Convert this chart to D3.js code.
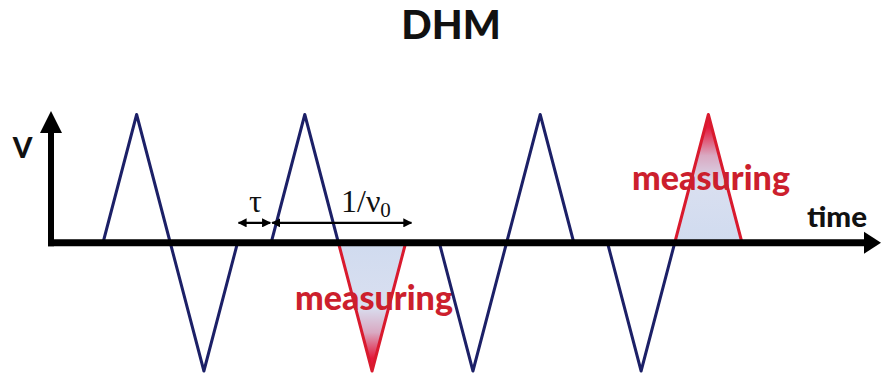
<!DOCTYPE html>
<html>
<head>
<meta charset="utf-8">
<script src="https://cdn.jsdelivr.net/npm/d3@7"></script>
<style>
  html, body { margin: 0; padding: 0; background: #fff; }
  svg { display: block; }
</style>
</head>
<body>
<script>
// ---- data (time in half-pulse units, voltage normalised to pulse amplitude) ----
const pulseStart     = [0, 2, 5, 7, 10, 12, 15, 17];
const pulseSign      = [1, -1, 1, -1, -1, 1, -1, 1];
const pulseMeasuring = [false, false, false, true, false, false, false, true];
const pulseWidth = 2;
const pulseAmplitude = 1;
const tauSpan = [4, 5];
const periodSpan = [5, 9.2];
const measuringLabelPulses = [3, 7];
const titleText = "DHM";
const yLabel = "V";
const xLabel = "time";

// ---- layout ----
const W = 881, H = 376;
const svg = d3.select("body").append("svg").attr("width", W).attr("height", H);

const x = d3.scaleLinear().domain([0, 19]).range([103, 742]);
const y = d3.scaleLinear().domain([-1, 1]).range([371, 114.5]);

const navy = "#1c2067", red = "#d91a2e", textRed = "#cc1f2d";

const defs = svg.append("defs");
const gDown = defs.append("linearGradient").attr("id", "gradDown")
  .attr("x1", 0).attr("y1", 0).attr("x2", 0).attr("y2", 1);
[[0, "#d0dbef"], [0.5, "#d9dff0"], [0.7, "#d9a9c2"], [0.9, "#e4193b"], [1, "#e4123a"]]
  .forEach(([o, c]) => gDown.append("stop").attr("offset", o).attr("stop-color", c));
const gUp = defs.append("linearGradient").attr("id", "gradUp")
  .attr("x1", 0).attr("y1", 0).attr("x2", 0).attr("y2", 1);
[[0, "#e4123a"], [0.1, "#e4193b"], [0.32, "#d9a9c2"], [0.55, "#d9dff0"], [1, "#d0dbef"]]
  .forEach(([o, c]) => gUp.append("stop").attr("offset", o).attr("stop-color", c));

defs.append("marker").attr("id", "ah")
  .attr("viewBox", "0 0 10 10").attr("refX", 9).attr("refY", 5)
  .attr("markerWidth", 9).attr("markerHeight", 9)
  .attr("markerUnits", "userSpaceOnUse")
  .attr("orient", "auto-start-reverse")
  .append("path").attr("d", "M0,0 L10,5 L0,10 z").attr("fill", "#000");

const pulses = pulseStart.map((s, i) => ({
  s, sign: pulseSign[i], meas: pulseMeasuring[i]
}));
const triLine = d3.line().x(d => x(d[0])).y(d => y(d[1]));
const triPts = p => [[p.s, 0], [p.s + pulseWidth / 2, p.sign * pulseAmplitude], [p.s + pulseWidth, 0], [p.s, 0]];

// red measuring triangles (filled)
svg.append("g").selectAll("path").data(pulses.filter(p => p.meas)).join("path")
  .attr("d", p => triLine(triPts(p)) + "Z")
  .attr("fill", p => p.sign < 0 ? "url(#gradDown)" : "url(#gradUp)")
  .attr("stroke", red).attr("stroke-width", 3).attr("stroke-linejoin", "round");

// measuring labels
const labelPos = [
  { x: 295, y: 310 },
  { x: 632, y: 190 }
];
svg.append("g").selectAll("text").data(measuringLabelPulses).join("text")
  .attr("x", (d, i) => labelPos[i].x).attr("y", (d, i) => labelPos[i].y)
  .attr("font-family", "Lato, 'Open Sans', sans-serif").attr("font-weight", 900)
  .attr("font-size", 34).attr("fill", textRed)
  .attr("textLength", 158).attr("lengthAdjust", "spacingAndGlyphs")
  .text("measuring");

// blue triangles
svg.append("g").selectAll("path").data(pulses.filter(p => !p.meas)).join("path")
  .attr("d", p => triLine(triPts(p)) + "Z")
  .attr("fill", "none")
  .attr("stroke", navy).attr("stroke-width", 3).attr("stroke-linejoin", "round");

// axes
const y0 = y(0);
svg.append("line").attr("x1", 48).attr("x2", 866).attr("y1", y0).attr("y2", y0)
  .attr("stroke", "#000").attr("stroke-width", 7);
svg.append("path")
  .attr("d", `M881,${y0} L864,${y0 - 11} L864,${y0 + 11} Z`).attr("fill", "#000");
svg.append("line").attr("x1", 51).attr("x2", 51).attr("y1", y0 + 3.5).attr("y2", 128)
  .attr("stroke", "#000").attr("stroke-width", 6);
svg.append("path")
  .attr("d", `M51,111 L40,133 L62,133 Z`).attr("fill", "#000");

// tau & period arrows
const arrY = y(0.155);
[tauSpan, periodSpan].forEach(sp => {
  svg.append("line")
    .attr("x1", x(sp[0]) + 1).attr("x2", x(sp[1]) - 1)
    .attr("y1", arrY).attr("y2", arrY)
    .attr("stroke", "#000").attr("stroke-width", 2.2)
    .attr("marker-start", "url(#ah)").attr("marker-end", "url(#ah)");
});
svg.append("text").attr("x", (x(tauSpan[0]) + x(tauSpan[1])) / 2 + 1).attr("y", 212)
  .attr("text-anchor", "middle")
  .attr("font-family", "'Liberation Serif', 'Times New Roman', serif")
  .attr("font-size", 32).attr("fill", "#111").text("τ");
const per = svg.append("text").attr("x", 341).attr("y", 212)
  .attr("font-family", "'Liberation Serif', 'Times New Roman', serif")
  .attr("font-size", 32).attr("fill", "#111");
per.append("tspan").text("1/ν");
per.append("tspan").attr("font-size", 21).attr("dy", 5).text("0");

// labels
svg.append("text").attr("x", 22.5).attr("y", 158).attr("text-anchor", "middle")
  .attr("font-family", "Lato, sans-serif").attr("font-weight", 900)
  .attr("font-size", 28).attr("fill", "#111").text(yLabel);
svg.append("text").attr("x", 807).attr("y", 227)
  .attr("font-family", "Lato, sans-serif").attr("font-weight", 900)
  .attr("font-size", 28).attr("fill", "#111")
  .attr("textLength", 60).attr("lengthAdjust", "spacingAndGlyphs").text(xLabel);
svg.append("text").attr("x", 451).attr("y", 39).attr("text-anchor", "middle")
  .attr("font-family", "Lato, sans-serif").attr("font-weight", 900)
  .attr("font-size", 40).attr("fill", "#111").text(titleText);
</script>
</body>
</html>
